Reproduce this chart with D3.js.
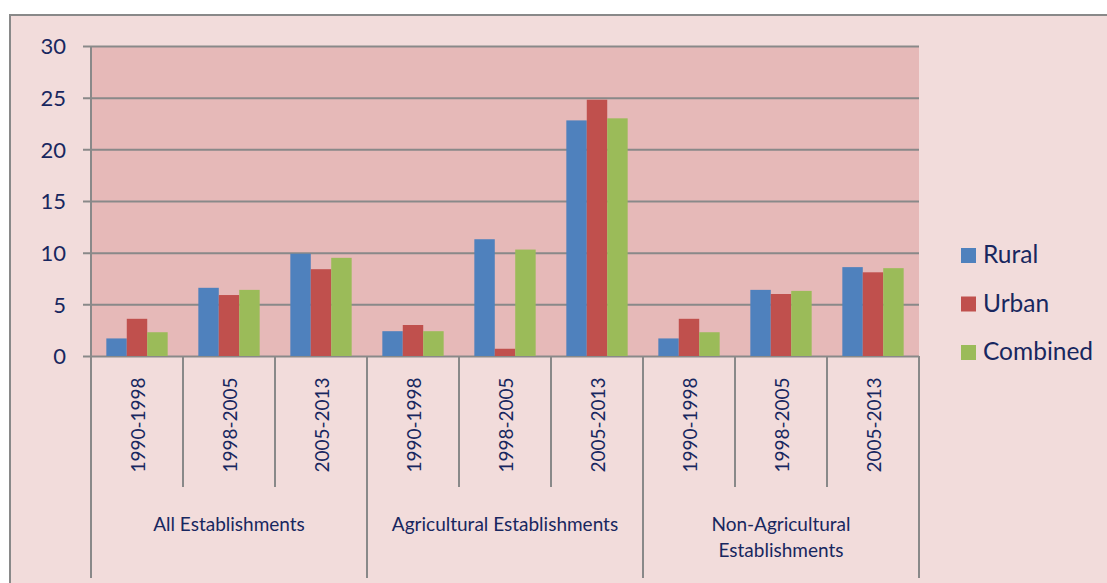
<!DOCTYPE html>
<html>
<head>
<meta charset="utf-8">
<script src="https://cdn.jsdelivr.net/npm/d3@7"></script>
<style>
  body { margin: 0; background: #fff; }
  text { font-family: Lato, "Open Sans", sans-serif; fill: #18275f; }
</style>
</head>
<body>
<div id="chart"></div>
<script>
// values
var groups = ["All Establishments", "Agricultural Establishments", "Non-Agricultural Establishments"];
var periods = ["1990-1998", "1998-2005", "2005-2013"];
var seriesNames = ["Rural", "Urban", "Combined"];
var rural = [1.7, 6.6, 9.9, 2.4, 11.3, 22.8, 1.7, 6.4, 8.6];
var urban = [3.6, 5.9, 8.4, 3.0, 0.7, 24.8, 3.6, 6.0, 8.1];
var combined = [2.3, 6.4, 9.5, 2.4, 10.3, 23.0, 2.3, 6.3, 8.5];
var yTicks = [0, 5, 10, 15, 20, 25, 30];
var colors = ["#4f81bd", "#c0504d", "#9bbb59"];

var W = 1107, H = 583;
var plotL = 91, plotR = 919, plotT = 46, plotB = 356;
var grey = "#898989";

var svg = d3.select("#chart").append("svg")
  .attr("width", W).attr("height", H);

// chart area
svg.append("rect")
  .attr("x", 10).attr("y", 15).attr("width", W + 20).attr("height", H + 20)
  .attr("fill", "#f2dcdb").attr("stroke", grey).attr("stroke-width", 2);

svg.append("rect")
  .attr("x", plotL).attr("y", plotT).attr("width", plotR - plotL).attr("height", plotB - plotT)
  .attr("fill", "#e6b9b8");

// one slot per group/period pair
var cats = [];
groups.forEach(function(g, gi) {
  periods.forEach(function(p, pi) { cats.push({group: gi, period: p, i: gi * 3 + pi}); });
});

var x = d3.scaleBand().domain(d3.range(cats.length)).range([plotL, plotR]).padding(0);
var xs = d3.scaleBand().domain(d3.range(3)).range([0, x.bandwidth()])
  .paddingInner(0).paddingOuter(0.75);
var y = d3.scaleLinear().domain([0, 30]).range([plotB, plotT]);

// gridlines and y axis
var yAxis = d3.axisLeft(y).tickValues(yTicks).tickSize(0).tickPadding(25);
var gy = svg.append("g").attr("transform", "translate(" + plotL + ",0)").call(yAxis);
gy.select(".domain").remove();
gy.selectAll(".tick line").attr("x1", -8).attr("x2", plotR - plotL)
  .attr("stroke", grey).attr("stroke-width", 2);
gy.selectAll(".tick text").attr("font-size", 22).style("fill", "#18275f")
  .attr("font-family", "Lato, sans-serif").attr("dy", "0.36em");

svg.append("line").attr("x1", plotL).attr("x2", plotL).attr("y1", plotT).attr("y2", plotB)
  .attr("stroke", grey).attr("stroke-width", 2);

// bars
var values = [rural, urban, combined];
values.forEach(function(vals, si) {
  svg.append("g").selectAll("rect").data(cats).enter().append("rect")
    .attr("x", function(d) { return x(d.i) + xs(si); })
    .attr("y", function(d) { return y(vals[d.i]); })
    .attr("width", xs.bandwidth())
    .attr("height", function(d) { return y(0) - y(vals[d.i]); })
    .attr("fill", colors[si]);
});

// category separators
var bounds = d3.range(cats.length + 1);
svg.append("g").selectAll("line").data(bounds).enter().append("line")
  .attr("x1", function(d) { return d < cats.length ? x(d) : plotR; })
  .attr("x2", function(d) { return d < cats.length ? x(d) : plotR; })
  .attr("y1", plotB)
  .attr("y2", function(d) { return d % 3 === 0 ? 578 : 487; })
  .attr("stroke", grey).attr("stroke-width", 2);

// period labels (rotated)
svg.append("g").selectAll("text").data(cats).enter().append("text")
  .attr("transform", function(d) {
    return "translate(" + (x(d.i) + x.bandwidth() / 2 + 8) + ",425) rotate(-90)";
  })
  .attr("text-anchor", "middle").attr("font-size", 19)
  .text(function(d) { return d.period; });

// group labels
var groupLines = [["All Establishments"], ["Agricultural Establishments"], ["Non-Agricultural", "Establishments"]];
groupLines.forEach(function(lines, gi) {
  var cx = (x(gi * 3) + x(gi * 3 + 2) + x.bandwidth()) / 2;
  var t = svg.append("text").attr("x", cx).attr("y", 531).attr("text-anchor", "middle")
    .attr("font-size", 19);
  lines.forEach(function(l, li) {
    t.append("tspan").attr("x", cx).attr("dy", li === 0 ? 0 : 26).text(l);
  });
});

// legend
var lg = svg.append("g").attr("transform", "translate(961,248)");
seriesNames.forEach(function(n, i) {
  lg.append("rect").attr("x", 0).attr("y", i * 48.5).attr("width", 15).attr("height", 15)
    .attr("fill", colors[i]);
  lg.append("text").attr("x", 22).attr("y", i * 48.5 + 15).attr("font-size", 24.5).text(n);
});
</script>
</body>
</html>
